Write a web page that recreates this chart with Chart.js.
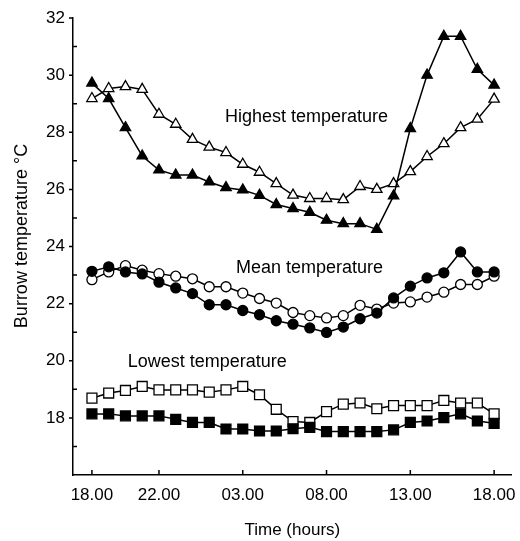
<!DOCTYPE html>
<html>
<head>
<meta charset="utf-8">
<script src="https://cdn.jsdelivr.net/npm/chart.js@4/dist/chart.umd.min.js"></script>
<style>
  html, body { margin: 0; padding: 0; background: #fff; }
  #wrap { width: 520px; height: 541px; }
</style>
</head>
<body>
<div id="wrap"><canvas id="burrowChart" width="520" height="541"></canvas></div>
<script>
// hours after 18.00 (one reading per hour)
const hours = [0, 1, 2, 3, 4, 5, 6, 7, 8, 9, 10, 11, 12, 13, 14, 15, 16, 17, 18, 19, 20, 21, 22, 23, 24];
const tickHours = [0, 4, 9, 14, 19, 24];
const tickLabels = ["18.00", "22.00", "03.00", "08.00", "13.00", "18.00"];

// Highest temperature
const highFilled = [29.72, 29.18, 28.16, 27.17, 26.68, 26.5, 26.5, 26.26, 26.06, 25.98, 25.79, 25.47, 25.33, 25.2, 24.92, 24.8, 24.8, 24.6, 25.77, 28.13, 30.0, 31.36, 31.36, 30.2, 29.65];
const highOpen = [29.18, 29.53, 29.6, 29.5, 28.63, 28.28, 27.75, 27.48, 27.29, 26.88, 26.6, 26.2, 25.8, 25.68, 25.68, 25.64, 26.1, 26.0, 26.2, 26.62, 27.15, 27.6, 28.16, 28.46, 29.16];

// Mean temperature
const meanFilled = [23.13, 23.29, 23.11, 23.04, 22.75, 22.55, 22.35, 21.96, 21.96, 21.76, 21.61, 21.4, 21.28, 21.15, 20.99, 21.18, 21.47, 21.67, 22.2, 22.61, 22.9, 23.08, 23.81, 23.11, 23.11];
const meanOpen = [22.84, 23.11, 23.33, 23.17, 23.05, 22.96, 22.87, 22.59, 22.59, 22.37, 22.18, 22.02, 21.69, 21.58, 21.5, 21.58, 21.94, 21.81, 22.02, 22.06, 22.23, 22.4, 22.67, 22.67, 22.96];

// Lowest temperature
const lowFilled = [18.14, 18.14, 18.07, 18.07, 18.07, 17.95, 17.84, 17.84, 17.61, 17.61, 17.54, 17.54, 17.62, 17.67, 17.52, 17.52, 17.52, 17.52, 17.58, 17.84, 17.89, 18.01, 18.14, 17.89, 17.81];
const lowOpen = [18.69, 18.87, 18.96, 19.1, 18.98, 18.98, 18.98, 18.9, 18.98, 19.1, 18.81, 18.3, 17.87, 17.84, 18.22, 18.48, 18.52, 18.32, 18.43, 18.43, 18.43, 18.61, 18.52, 18.52, 18.14];

// text labels inside the plot: [text, hour, temperature]
const notes = [
  ["Highest temperature", 7.94, 28.53],
  ["Mean temperature", 8.6, 23.23],
  ["Lowest temperature", 2.13, 19.96]
];

const FONT = "'Liberation Sans', Arial, Helvetica, sans-serif";
Chart.defaults.font.family = FONT;
Chart.defaults.color = "#000";

function series(label, values, style, filled, radius) {
  return {
    label,
    data: hours.map((h, i) => ({ x: h, y: values[i] })),
    borderColor: "#000",
    borderWidth: 1.5,
    backgroundColor: "#000",
    pointStyle: style,
    pointRadius: radius,
    pointBorderWidth: 1.3,
    pointBorderColor: "#000",
    pointBackgroundColor: filled ? "#000" : "#fff",
    tension: 0
  };
}

// tick marks + free text
const extras = {
  id: "extras",
  afterDraw(chart) {
    const { ctx, scales: { x, y }, chartArea } = chart;
    ctx.save();
    ctx.strokeStyle = "#000";
    ctx.lineWidth = 1.5;
    ctx.beginPath();
    for (let v = 17; v <= 32; v++) {
      const py = y.getPixelForValue(v);
      if (v % 2) {
        ctx.moveTo(chartArea.left, py);
        ctx.lineTo(chartArea.left + 4, py);
      } else {
        ctx.moveTo(chartArea.left, py);
        ctx.lineTo(chartArea.left - 4, py);
      }
    }
    tickHours.forEach((h) => {
      const px = x.getPixelForValue(h);
      ctx.moveTo(px, chartArea.bottom);
      ctx.lineTo(px, chartArea.bottom - 5);
    });
    ctx.stroke();

    ctx.fillStyle = "#000";
    ctx.font = "18px " + FONT;
    ctx.textAlign = "left";
    ctx.textBaseline = "middle";
    notes.forEach(([t, h, v]) => {
      ctx.fillText(t, x.getPixelForValue(h), y.getPixelForValue(v));
    });

    // y axis title
    ctx.translate(22, chartArea.top + 218);
    ctx.rotate(-Math.PI / 2);
    ctx.textAlign = "center";
    ctx.font = "18px " + FONT;
    ctx.fillText("Burrow temperature \u00B0C", 0, 0);
    ctx.restore();
  }
};

new Chart(document.getElementById("burrowChart"), {
  type: "line",
  data: {
    datasets: [
      series("Highest (filled)", highFilled, "triangle", true, 6),
      series("Highest (open)", highOpen, "triangle", false, 6),
      series("Mean (filled)", meanFilled, "circle", true, 5),
      series("Mean (open)", meanOpen, "circle", false, 5),
      series("Lowest (filled)", lowFilled, "rect", true, 7),
      series("Lowest (open)", lowOpen, "rect", false, 7)
    ]
  },
  options: {
    responsive: false,
    animation: false,
    layout: { padding: { top: 18, right: 5, left: 0, bottom: 0 } },
    plugins: { legend: { display: false }, tooltip: { enabled: false } },
    scales: {
      x: {
        type: "linear",
        min: -1.13,
        max: 25.05,
        afterBuildTicks: (scale) => { scale.ticks = tickHours.map((v) => ({ value: v })); },
        afterFit: (scale) => { scale.height = 66; },
        grid: { display: false },
        border: { display: true, color: "#000", width: 1.5 },
        ticks: {
          autoSkip: false,
          maxRotation: 0,
          padding: 2,
          font: { size: 17 },
          callback: (v, i) => tickLabels[i]
        },
        title: {
          display: true,
          text: "Time (hours)",
          font: { size: 17 },
          padding: { top: 0, bottom: 0 }
        }
      },
      y: {
        min: 16,
        max: 32,
        afterFit: (scale) => { scale.width = 73; },
        grid: { display: false },
        border: { display: true, color: "#000", width: 1.5 },
        ticks: {
          stepSize: 2,
          padding: 0,
          font: { size: 17 },
          callback: (v) => (v === 16 ? "" : v)
        }
      }
    }
  },
  plugins: [extras]
});
</script>
</body>
</html>
